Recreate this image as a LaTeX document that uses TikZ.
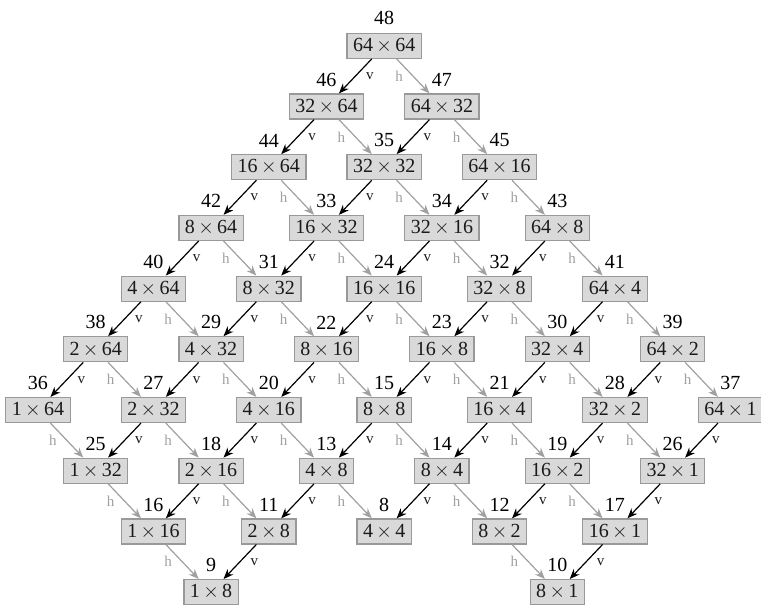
\documentclass[tikz,border=0pt]{standalone}
\usepackage{fontspec}
\setmainfont{Liberation Serif}
\usetikzlibrary{positioning,arrows.meta}
\definecolor{dvFill}{HTML}{D9D9D9}
\definecolor{dvLine}{HTML}{999999}
\definecolor{dvHor}{HTML}{A0A0A0}
\definecolor{dvText}{HTML}{1A1A1A}
\newcommand{\sz}[2]{#1\,$\times$\,#2}
\tikzset{
  dv-box/.style={
    draw=dvLine, line width=0.6pt, fill=dvFill, text=dvText,
    inner xsep=3pt, inner ysep=2pt, minimum height=12.5pt,
    label distance=2.7pt
  },
  dv-tag/.style={font=\fontsize{7.5}{9}\selectfont},
  dv-v/.style={draw=black, line width=0.6pt, -{Stealth[length=5pt,width=4pt]},
    edge node={node[midway, right=1.7pt, dv-tag, text=dvText] {v}}},
  dv-h/.style={draw=dvHor, line width=0.6pt, -{Stealth[length=5pt,width=4pt]},
    edge node={node[midway, left=1.5pt, dv-tag, text=dvHor] {h}}}
}

\begin{document}
\begin{tikzpicture}[
  on grid, node distance=30.35pt and 28.85pt
]
\useasboundingbox (-192.1pt,22.9pt) rectangle (188.4pt,-280.6pt);
% --- row 0..2 ---
\node[dv-box, label={[label distance=0.5pt]above:48}] (s64x64) {\sz{64}{64}};
\node[dv-box, below left=of s64x64, label=above:46] (s32x64) {\sz{32}{64}};
\node[dv-box, below right=of s64x64, label=above:47] (s64x32) {\sz{64}{32}};
\node[dv-box, below left=of s32x64, label=above:44] (s16x64) {\sz{16}{64}};
\node[dv-box, below right=of s32x64, label=above:35] (s32x32) {\sz{32}{32}};
\node[dv-box, below right=of s64x32, label=above:45] (s64x16) {\sz{64}{16}};
% --- row 3 ---
\node[dv-box, below left=of s16x64, label=above:42] (s8x64) {\sz{8}{64}};
\node[dv-box, below right=of s16x64, label=above:33] (s16x32) {\sz{16}{32}};
\node[dv-box, below right=of s32x32, label=above:34] (s32x16) {\sz{32}{16}};
\node[dv-box, below right=of s64x16, label=above:43] (s64x8) {\sz{64}{8}};
% --- row 4 ---
\node[dv-box, below left=of s8x64, label=above:40] (s4x64) {\sz{4}{64}};
\node[dv-box, below right=of s8x64, label=above:31] (s8x32) {\sz{8}{32}};
\node[dv-box, below right=of s16x32, label=above:24] (s16x16) {\sz{16}{16}};
\node[dv-box, below right=of s32x16, label=above:32] (s32x8) {\sz{32}{8}};
\node[dv-box, below right=of s64x8, label=above:41] (s64x4) {\sz{64}{4}};
% --- row 5 ---
\node[dv-box, below left=of s4x64, label=above:38] (s2x64) {\sz{2}{64}};
\node[dv-box, below right=of s4x64, label=above:29] (s4x32) {\sz{4}{32}};
\node[dv-box, below right=of s8x32, label=above:22] (s8x16) {\sz{8}{16}};
\node[dv-box, below right=of s16x16, label=above:23] (s16x8) {\sz{16}{8}};
\node[dv-box, below right=of s32x8, label=above:30] (s32x4) {\sz{32}{4}};
\node[dv-box, below right=of s64x4, label=above:39] (s64x2) {\sz{64}{2}};
% --- row 6 ---
\node[dv-box, below left=of s2x64, label=above:36] (s1x64) {\sz{1}{64}};
\node[dv-box, below right=of s2x64, label=above:27] (s2x32) {\sz{2}{32}};
\node[dv-box, below right=of s4x32, label=above:20] (s4x16) {\sz{4}{16}};
\node[dv-box, below right=of s8x16, label=above:15] (s8x8) {\sz{8}{8}};
\node[dv-box, below right=of s16x8, label=above:21] (s16x4) {\sz{16}{4}};
\node[dv-box, below right=of s32x4, label=above:28] (s32x2) {\sz{32}{2}};
\node[dv-box, below right=of s64x2, label=above:37] (s64x1) {\sz{64}{1}};
% --- row 7 ---
\node[dv-box, below right=of s1x64, label=above:25] (s1x32) {\sz{1}{32}};
\node[dv-box, below right=of s2x32, label=above:18] (s2x16) {\sz{2}{16}};
\node[dv-box, below right=of s4x16, label=above:13] (s4x8) {\sz{4}{8}};
\node[dv-box, below right=of s8x8, label=above:14] (s8x4) {\sz{8}{4}};
\node[dv-box, below right=of s16x4, label=above:19] (s16x2) {\sz{16}{2}};
\node[dv-box, below right=of s32x2, label=above:26] (s32x1) {\sz{32}{1}};
% --- row 8 ---
\node[dv-box, below right=of s1x32, label=above:16] (s1x16) {\sz{1}{16}};
\node[dv-box, below right=of s2x16, label=above:11] (s2x8) {\sz{2}{8}};
\node[dv-box, below right=of s4x8, label=above:8] (s4x4) {\sz{4}{4}};
\node[dv-box, below right=of s8x4, label=above:12] (s8x2) {\sz{8}{2}};
\node[dv-box, below right=of s16x2, label=above:17] (s16x1) {\sz{16}{1}};
% --- row 9 ---
\node[dv-box, below right=of s1x16, label=above:9] (s1x8) {\sz{1}{8}};
\node[dv-box, below right=of s8x2, label=above:10] (s8x1) {\sz{8}{1}};

% --- splits ---
\path (s64x64) edge[dv-v] (s32x64) edge[dv-h] (s64x32);
\path (s32x64) edge[dv-v] (s16x64) edge[dv-h] (s32x32);
\path (s64x32) edge[dv-v] (s32x32) edge[dv-h] (s64x16);
\path (s16x64) edge[dv-v] (s8x64) edge[dv-h] (s16x32);
\path (s32x32) edge[dv-v] (s16x32) edge[dv-h] (s32x16);
\path (s64x16) edge[dv-v] (s32x16) edge[dv-h] (s64x8);
\path (s8x64) edge[dv-v] (s4x64) edge[dv-h] (s8x32);
\path (s16x32) edge[dv-v] (s8x32) edge[dv-h] (s16x16);
\path (s32x16) edge[dv-v] (s16x16) edge[dv-h] (s32x8);
\path (s64x8) edge[dv-v] (s32x8) edge[dv-h] (s64x4);
\path (s4x64) edge[dv-v] (s2x64) edge[dv-h] (s4x32);
\path (s8x32) edge[dv-v] (s4x32) edge[dv-h] (s8x16);
\path (s16x16) edge[dv-v] (s8x16) edge[dv-h] (s16x8);
\path (s32x8) edge[dv-v] (s16x8) edge[dv-h] (s32x4);
\path (s64x4) edge[dv-v] (s32x4) edge[dv-h] (s64x2);
\path (s2x64) edge[dv-v] (s1x64) edge[dv-h] (s2x32);
\path (s4x32) edge[dv-v] (s2x32) edge[dv-h] (s4x16);
\path (s8x16) edge[dv-v] (s4x16) edge[dv-h] (s8x8);
\path (s16x8) edge[dv-v] (s8x8) edge[dv-h] (s16x4);
\path (s32x4) edge[dv-v] (s16x4) edge[dv-h] (s32x2);
\path (s64x2) edge[dv-v] (s32x2) edge[dv-h] (s64x1);
\path (s1x64) edge[dv-h] (s1x32);
\path (s2x32) edge[dv-v] (s1x32) edge[dv-h] (s2x16);
\path (s4x16) edge[dv-v] (s2x16) edge[dv-h] (s4x8);
\path (s8x8) edge[dv-v] (s4x8) edge[dv-h] (s8x4);
\path (s16x4) edge[dv-v] (s8x4) edge[dv-h] (s16x2);
\path (s32x2) edge[dv-v] (s16x2) edge[dv-h] (s32x1);
\path (s64x1) edge[dv-v] (s32x1);
\path (s1x32) edge[dv-h] (s1x16);
\path (s2x16) edge[dv-v] (s1x16) edge[dv-h] (s2x8);
\path (s4x8) edge[dv-v] (s2x8) edge[dv-h] (s4x4);
\path (s8x4) edge[dv-v] (s4x4) edge[dv-h] (s8x2);
\path (s16x2) edge[dv-v] (s8x2) edge[dv-h] (s16x1);
\path (s32x1) edge[dv-v] (s16x1);
\path (s1x16) edge[dv-h] (s1x8);
\path (s2x8) edge[dv-v] (s1x8);
\path (s8x2) edge[dv-h] (s8x1);
\path (s16x1) edge[dv-v] (s8x1);
\end{tikzpicture}
\end{document}
